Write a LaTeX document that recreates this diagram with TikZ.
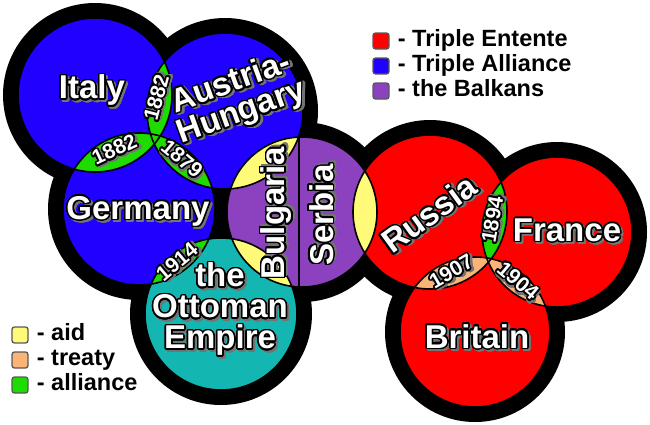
\documentclass[tikz,border=0pt]{standalone}
\usepackage{fontspec}
\setmainfont{Liberation Sans}
\usepackage[copies]{contour}
\usetikzlibrary{positioning}
\definecolor{allyblue}{RGB}{32,0,255}
\definecolor{entred}{RGB}{255,0,0}
\definecolor{balkpurple}{RGB}{140,66,190}
\definecolor{ottoteal}{RGB}{20,182,178}
\definecolor{allygreen}{RGB}{30,220,0}
\definecolor{aidyellow}{RGB}{255,250,120}
\definecolor{treatytan}{RGB}{250,180,120}
\contourlength{1.5pt}
\contournumber{24}
\newcommand{\ctext}[1]{\rlap{\kern2pt\raisebox{-2pt}{\textcolor{black!55}{\contour{black!55}{#1}}}}\contour{black}{#1}}

\begin{document}
\begin{tikzpicture}[
    x=1pt, y=-1pt,
    ring/.style={fill=black},
    rim/.style={draw=black, line width=1.6pt},
    cname/.style={text=white, font=\fontsize{33}{31}\selectfont\bfseries, align=center, inner sep=0pt},
    yr/.style={text=white, font=\fontsize{21}{21}\selectfont\bfseries, inner sep=0pt},
    key/.style={draw=black!65, line width=1.3pt, rounded corners=2.5pt, minimum size=16pt, inner sep=0pt},
    keytxt/.style={font=\fontsize{23.5}{24}\selectfont\bfseries, inner sep=0pt, anchor=base west},
]
\useasboundingbox (0,0) rectangle (650,424);
\def\circlist{italy/95/95/77/allyblue, austria/225/111/78/allyblue, germany/139/209/76/allyblue,
  balkans/302/212/75/balkpurple, ottoman/221/314/76/ottoteal,
  russia/430/212/77/entred, france/557/232/75/entred, britain/475/332/75/entred}
\foreach \n/\x/\y/\r/\c in \circlist {
  \coordinate (\n) at (\x,\y);
  \fill[ring] (\n) circle[radius=\r+15];
}
\foreach \n/\x/\y/\r/\c in \circlist {
  \fill[\c] (\n) circle[radius=\r];
}
\foreach \a/\ra/\b/\rb/\c in {italy/77/austria/78/allygreen, italy/77/germany/76/allygreen,
  germany/76/austria/78/allygreen, germany/76/ottoman/76/allygreen,
  austria/78/balkans/75/aidyellow, ottoman/76/balkans/75/aidyellow, balkans/75/russia/77/aidyellow,
  russia/77/france/75/allygreen, russia/77/britain/75/treatytan, france/75/britain/75/treatytan} {
  \begin{scope}
    \clip (\a) circle[radius=\ra];
    \fill[\c] (\b) circle[radius=\rb];
  \end{scope}
}
\foreach \n/\x/\y/\r/\c in \circlist {
  \draw[rim] (\n) circle[radius=\r];
}
\begin{scope}
  \clip (balkans) circle[radius=75];
  \draw[rim, line width=2.4pt] (299,130) -- (299,300);
\end{scope}

\node[cname] (lItaly) at (92,92) {\ctext{Italy}};
\node[cname, rotate=20] (lAustria) at (237,100) {\ctext{Austria-}\\\ctext{Hungary}};
\node[cname] (lGermany) at (138,213) {\ctext{Germany}};
\node[cname, rotate=90] (lBulgaria) at (278,213) {\ctext{Bulgaria}};
\node[cname, rotate=90] (lSerbia) at (323,215) {\ctext{Serbia}};
\node[cname] (lOttoman) at (220,311) {\ctext{the}\\\ctext{Ottoman}\\\ctext{Empire}};
\node[cname, rotate=36] (lRussia) at (430,215) {\ctext{Russia}};
\node[cname] (lFrance) at (567,232) {\ctext{France}};
\node[cname] (lBritain) at (477,338) {\ctext{Britain}};

\node[yr, rotate=75] (y1882a) at (158,98) {\ctext{1882}};
\node[yr, rotate=25] (y1882b) at (115,151) {\ctext{1882}};
\node[yr, rotate=-40] (y1879) at (181,160) {\ctext{1879}};
\node[yr, rotate=40] (y1914) at (178,263) {\ctext{1914}};
\node[yr, rotate=80] (y1894) at (494,220) {\ctext{1894}};
\node[yr, rotate=30] (y1907) at (452,273) {\ctext{1907}};
\node[yr, rotate=-40] (y1904) at (517,282) {\ctext{1904}};

\foreach \n/\x/\y/\c/\t in {ent/381/41/entred/Triple Entente, ally/381/66/allyblue/Triple Alliance,
  balk/381/91/balkpurple/the Balkans, aid/20/335/aidyellow/aid, treaty/20/360/treatytan/treaty,
  alliance/20/385/allygreen/alliance} {
  \node[key, fill=\c] (k\n) at (\x,\y) {};
  \node[keytxt] (t\n) at ([xshift=8pt, yshift=-5pt]k\n.east) {- \t};
}
\end{tikzpicture}
\end{document}
